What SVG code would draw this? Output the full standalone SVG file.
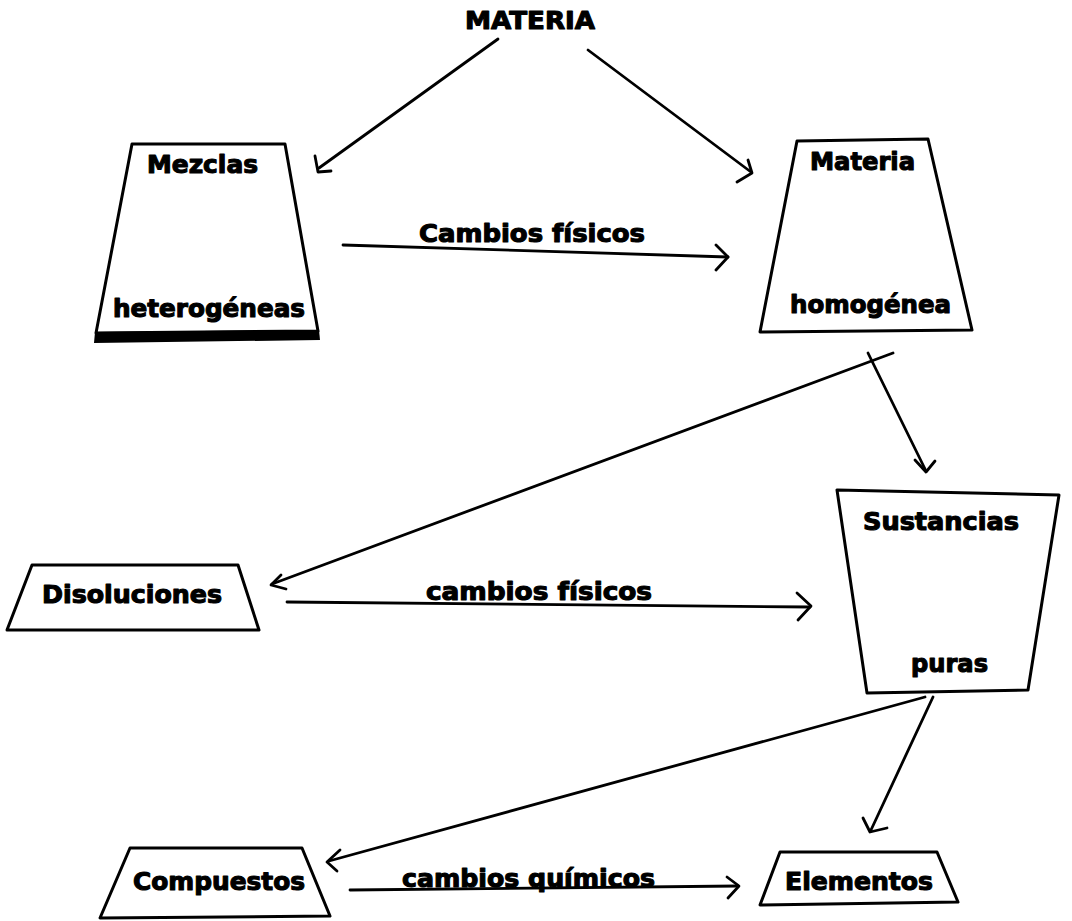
<svg xmlns="http://www.w3.org/2000/svg" width="1072" height="921" viewBox="0 0 1072 921">
<style>
.box{fill:#fff;stroke:#000;stroke-width:3;stroke-linejoin:round}
.t{font-family:"DejaVu Sans","Liberation Sans",sans-serif;font-weight:bold;font-size:24px;fill:#000;stroke:#000;stroke-width:1.1;stroke-linejoin:round}
.c line,.c polyline{fill:none;stroke:#000;stroke-width:2.8;stroke-linecap:round;stroke-linejoin:round}
</style>
<rect width="1072" height="921" fill="#fff"/>
<g id="materia-title">
<text class="t" x="465" y="29" textLength="130" lengthAdjust="spacingAndGlyphs">MATERIA</text>
</g>
<g id="mezclas">
<polygon class="box" points="132,144 285,144 318,331 96,333"/>
<polygon points="95,332 319,330 320,340 94,343" fill="#000"/>
<text class="t" x="147" y="173" textLength="111" lengthAdjust="spacingAndGlyphs">Mezclas</text>
<text class="t" x="113" y="317" textLength="192" lengthAdjust="spacingAndGlyphs">heterogéneas</text>
</g>
<g id="materia-homogenea">
<polygon class="box" points="797,141 928,139 972,330 760,332"/>
<text class="t" x="810" y="170" textLength="105" lengthAdjust="spacingAndGlyphs">Materia</text>
<text class="t" x="790" y="313" textLength="161" lengthAdjust="spacingAndGlyphs">homogénea</text>
</g>
<g id="disoluciones">
<polygon class="box" points="32,565 238,565 259,630 7,630"/>
<text class="t" x="42" y="603" textLength="180" lengthAdjust="spacingAndGlyphs">Disoluciones</text>
</g>
<g id="sustancias-puras">
<polygon class="box" points="837,490 1059,495 1028,690 867,693"/>
<text class="t" x="863" y="530" textLength="156" lengthAdjust="spacingAndGlyphs">Sustancias</text>
<text class="t" x="911" y="672" textLength="77" lengthAdjust="spacingAndGlyphs">puras</text>
</g>
<g id="compuestos">
<polygon class="box" points="130,848 302,848 330,916 100,918"/>
<text class="t" x="133" y="890" textLength="172" lengthAdjust="spacingAndGlyphs">Compuestos</text>
</g>
<g id="elementos">
<polygon class="box" points="780,852 937,852 958,902 760,905"/>
<text class="t" x="785" y="890" textLength="148" lengthAdjust="spacingAndGlyphs">Elementos</text>
</g>
<g id="connectors" class="c">
<line x1="498" y1="39" x2="319" y2="168"/>
<polyline points="315,156 318,172 331,171"/>
<line x1="588" y1="50" x2="751" y2="172"/>
<polyline points="748,160 752,173 737,182"/>
<line x1="343" y1="245" x2="728" y2="257"/>
<polyline points="716,245 728,257 716,270"/>
<line x1="893" y1="353" x2="272" y2="584"/>
<polyline points="281,575 271,585 286,589"/>
<line x1="868" y1="353" x2="926" y2="471"/>
<polyline points="915,460 926,472 935,461"/>
<line x1="287" y1="602" x2="810" y2="607"/>
<polyline points="797,593 811,606 798,620"/>
<line x1="925" y1="697" x2="329" y2="861"/>
<polyline points="340,850 327,862 337,871"/>
<line x1="933" y1="697" x2="871" y2="830"/>
<polyline points="863,818 870,832 887,828"/>
<line x1="350" y1="890" x2="738" y2="886"/>
<polyline points="727,877 739,886 728,898"/>
</g>
<g id="labels">
<text class="t" x="419" y="242" textLength="226" lengthAdjust="spacingAndGlyphs">Cambios físicos</text>
<text class="t" x="426" y="600" textLength="226" lengthAdjust="spacingAndGlyphs">cambios físicos</text>
<text class="t" x="402" y="887" textLength="253" lengthAdjust="spacingAndGlyphs">cambios químicos</text>
</g>
</svg>
